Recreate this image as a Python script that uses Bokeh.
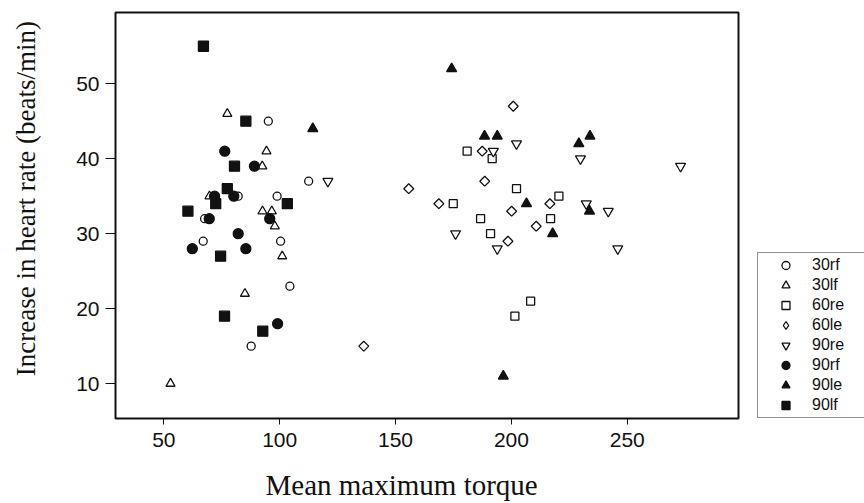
import numpy as np
from bokeh.plotting import figure
from bokeh.layouts import row
from bokeh.models import Legend, LegendItem, Range1d, FixedTicker
from bokeh.embed import file_html
from bokeh.resources import INLINE

# ---- data ----
x_30rf = [95.1, 112.5, 82.1, 98.9, 67.6, 67.0, 100.4, 104.4, 87.7]
y_30rf = [45, 37, 35, 35, 32, 29, 29, 23, 15]

x_30lf = [77.4, 94.3, 92.5, 69.7, 92.6, 96.6, 97.9, 101.1, 85.0, 52.9]
y_30lf = [46, 41, 39, 35, 33, 33, 31, 27, 22, 10]

x_60re = [180.9, 191.7, 202.2, 174.9, 186.7, 220.5, 216.9, 191.0, 208.3, 201.5]
y_60re = [41, 40, 36, 34, 32, 35, 32, 30, 21, 19]

x_60le = [200.8, 187.4, 188.5, 155.7, 168.7, 200.1, 216.6, 210.7, 198.5, 136.3]
y_60le = [47, 41, 37, 36, 34, 33, 34, 31, 29, 15]

x_90re = [120.8, 192.2, 202.2, 229.8, 273.0, 232.3, 241.8, 175.9, 193.9, 245.9]
y_90re = [37, 41, 42, 40, 39, 34, 33, 30, 28, 28]

x_90rf = [76.3, 89.1, 71.9, 80.2, 69.6, 95.7, 62.3, 82.1, 85.4, 99.1]
y_90rf = [41, 39, 35, 35, 32, 32, 28, 30, 28, 18]

x_90le = [114.3, 174.2, 188.4, 193.9, 206.5, 229.1, 233.9, 233.7, 217.8, 196.5]
y_90le = [44, 52, 43, 43, 34, 42, 43, 33, 30, 11]

x_90lf = [67.1, 85.4, 80.5, 77.4, 72.4, 60.4, 103.3, 74.5, 76.2, 92.7]
y_90lf = [55, 45, 39, 36, 34, 33, 34, 27, 19, 17]

series_names = ["30rf", "30lf", "60re", "60le", "90re", "90rf", "90le", "90lf"]
x_ticks = [50, 100, 150, 200, 250]
y_ticks = [10, 20, 30, 40, 50]

x_label = "Mean maximum torque"
y_label = "Increase in heart rate (beats/min)"

NB = "\u00a0"
INK = "#111111"

# ---- main figure ----
p = figure(width=746, height=503, output_backend="svg", toolbar_location=None,
           x_range=Range1d(29.15, 298.0), y_range=Range1d(5.35, 59.5),
           min_border_left=115, min_border_right=8, min_border_top=12,
           min_border_bottom=84)
p.background_fill_color = "white"
p.border_fill_color = "white"
p.outline_line_color = INK
p.outline_line_width = 2
p.xgrid.visible = False
p.ygrid.visible = False

for ax in (p.xaxis[0], p.yaxis[0]):
    ax.axis_line_color = None
    ax.minor_tick_line_color = None
    ax.major_tick_line_color = INK
    ax.major_tick_line_width = 1
    ax.major_tick_in = 0
    ax.major_label_text_font = "Liberation Sans"
    ax.major_label_text_font_size = "21px"
    ax.major_label_text_color = INK
    ax.axis_label_text_font = "Liberation Serif"
    ax.axis_label_text_font_style = "normal"
    ax.axis_label_text_color = INK

xa = p.xaxis[0]
ya = p.yaxis[0]
xa.ticker = FixedTicker(ticks=x_ticks)
ya.ticker = FixedTicker(ticks=y_ticks)
xa.major_tick_out = 6
xa.major_label_standoff = 8
ya.major_tick_out = 10
ya.major_label_standoff = 6

# axis titles (NBSP padding shifts them off the frame centre, as in the reference)
xa.axis_label = x_label + NB * 7
xa.axis_label_text_font_size = "29px"
xa.axis_label_standoff = 19
ya.axis_label = NB * 5 + y_label
ya.axis_label_text_font_size = "27px"
ya.axis_label_standoff = 32

data = {
    "30rf": (x_30rf, y_30rf), "30lf": (x_30lf, y_30lf),
    "60re": (x_60re, y_60re), "60le": (x_60le, y_60le),
    "90re": (x_90re, y_90re), "90rf": (x_90rf, y_90rf),
    "90le": (x_90le, y_90le), "90lf": (x_90lf, y_90lf),
}
styles = {
    "30rf": dict(marker="circle", size=8, fill_color="white", angle=0),
    "30lf": dict(marker="triangle", size=9, fill_color="white", angle=0),
    "60re": dict(marker="square", size=8, fill_color="white", angle=0),
    "60le": dict(marker="square", size=7, fill_color="white", angle=np.pi / 4),
    "90re": dict(marker="inverted_triangle", size=10, fill_color="white", angle=0),
    "90rf": dict(marker="circle", size=10, fill_color=INK, angle=0),
    "90le": dict(marker="triangle", size=10, fill_color=INK, angle=0),
    "90lf": dict(marker="square", size=10, fill_color=INK, angle=0),
}
legend_marker = {"60le": "diamond"}

for name in series_names:
    xs, ys = data[name]
    st = styles[name]
    p.scatter(xs, ys, marker=st["marker"], size=st["size"], angle=st["angle"],
              fill_color=st["fill_color"], line_color=INK, line_width=1.3)

# ---- legend panel (a second, axis-less figure to the right; its ranges
#      exclude the data so only the legend is visible) ----
q = figure(width=118, height=503, output_backend="svg", toolbar_location=None,
           x_range=Range1d(-200, -100), y_range=Range1d(-200, -100),
           x_axis_location=None, y_axis_location=None,
           min_border_left=0, min_border_right=0, min_border_top=0,
           min_border_bottom=0)
q.outline_line_color = None
q.background_fill_color = "white"
q.border_fill_color = "white"
q.xgrid.visible = False
q.ygrid.visible = False

items = []
for name in series_names:
    xs, ys = data[name]
    st = styles[name]
    r = q.scatter(xs, ys, marker=legend_marker.get(name, st["marker"]),
                  size=st["size"], fill_color=st["fill_color"],
                  line_color=INK, line_width=1.3)
    items.append(LegendItem(label=name, renderers=[r], index=0))

legend = Legend(items=items, location=(11, 0), margin=0, padding=2, spacing=0,
                glyph_width=51, glyph_height=20, label_height=20, label_width=60,
                label_standoff=1, label_text_font="Liberation Sans",
                label_text_font_size="16px", label_text_color=INK,
                label_text_baseline="middle",
                border_line_color="#222222", border_line_width=1.5,
                background_fill_color="white", background_fill_alpha=1.0)
q.add_layout(legend)

layout = row(p, q, spacing=0)
open("out.html", "w").write(file_html(layout, INLINE))
